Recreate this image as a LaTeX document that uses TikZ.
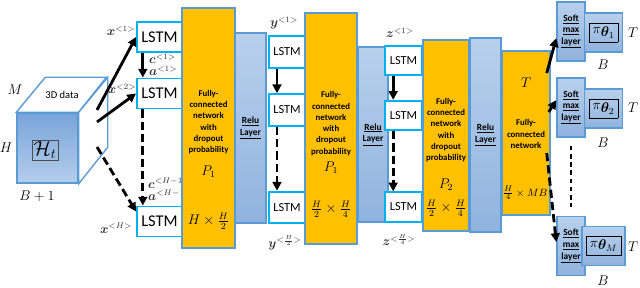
\documentclass[tikz,border=0pt]{standalone}
\usepackage[no-math]{fontspec}
\setmainfont{Carlito}
\usepackage{amsmath,amssymb,bm}
\usepackage{tikz}
\usetikzlibrary{arrows.meta,positioning,calc}
\definecolor{fcorange}{HTML}{FFC000}
\definecolor{edgeblue}{HTML}{5B9BD5}
\definecolor{lstmcyan}{HTML}{00B0F0}
\definecolor{relutop}{HTML}{B9D0EC}
\definecolor{relubot}{HTML}{8FB3DE}
\definecolor{cubetop}{HTML}{79A4DA}
\definecolor{cubebot}{HTML}{B5CEEC}
\tikzset{
  lstm/.style={rectangle, draw=lstmcyan, line width=1.6pt, fill=white,
               minimum width=1.35cm, minimum height=0.9cm, inner sep=0pt,
               font=\fontsize{14}{16}\selectfont},
  lstms/.style={lstm, minimum width=1.06cm, minimum height=0.95cm,
               font=\fontsize{10.5}{12}\selectfont},
  fcbox/.style={rectangle, draw=edgeblue, line width=1.2pt, fill=fcorange},
  relubox/.style={rectangle, draw=edgeblue, line width=1.2pt,
               top color=relutop, bottom color=relubot, inner sep=0pt,
               font=\bfseries\fontsize{8}{10}\selectfont, align=center},
  pibox/.style={rectangle, draw=edgeblue, line width=1.2pt,
               top color=relutop, bottom color=relubot,
               minimum width=1.11cm, minimum height=1.17cm,
               font=\fontsize{12}{14}\selectfont},
  cubeface/.style={rectangle, draw=edgeblue, line width=1.2pt,
               top color=cubetop, bottom color=cubebot,
               minimum width=1.83cm, minimum height=2.1cm},
  cubeedge/.style={draw=edgeblue, line width=1.2pt, fill=white},
  fctext/.style={font=\bfseries\fontsize{7.5}{9.6}\selectfont, align=center},
  mlbl/.style={font=\fontsize{12}{14}\selectfont, inner sep=0pt},
  lbl/.style={font=\fontsize{10.5}{12}\selectfont, text=black!80, inner sep=0pt},
  larr/.style={-{Triangle[length=7.5pt,width=7.5pt]}, line width=2.4pt},
  ldash/.style={larr, dash pattern=on 7pt off 3.5pt},
}

\begin{document}
\begin{tikzpicture}[x=0.03cm, y=-0.03cm]
  \useasboundingbox (0,0) rectangle (640,288);

  % Input cube
  \node[cubeface] (cube) at (47.5,148) {};
  \draw[cubeedge] (cube.north west) -- ++(29,-35) -- ++(61,0) -- (cube.north east) -- cycle;
  \draw[cubeedge] (cube.north east) -- ++(29,-35) -- ++(0,70) -- (cube.south east) -- cycle;
  \node[draw=black!70, line width=0.5pt, inner sep=1.5pt,
        font=\fontsize{18}{20}\selectfont] (ht) at (45,150) {$\mathcal{H}_{t}$};
  \node[font=\fontsize{9}{11}\selectfont] (cubetxt) at (62,95) {3D data};
  \node[mlbl] (mdim) at (15,90) {$M$};
  \node[mlbl] (hdim) at (6,148) {$H$};
  \node[mlbl] (bdim) at (37,196) {$B+1$};

  % First LSTM layer
  \node[lstm] (l11) at (159.5,37)    {LSTM};
  \node[lstm] (l12) at (159.5,93.5)  {LSTM};
  \node[lstm] (l13) at (159.5,221.5) {LSTM};

  \coordinate (s1) at (97,110);
  \coordinate (s2) at (97,122);
  \coordinate (s3) at (97,147);
  \draw[larr]  (s1) -- (l11.west);
  \draw[larr]  (s2) -- (l12.west);
  \draw[ldash] (s3) -- ([yshift=0.3cm]l13.west);
  \node[lbl] (x1) at (121,31)  {$\bm{x}^{<1>}$};
  \node[lbl] (x2) at (122,89)  {$\bm{x}^{<2>}$};
  \node[lbl] (xH) at (116,228) {$\bm{x}^{<H>}$};

  \draw[larr]  ([xshift=-0.5cm]l11.south) -- ([xshift=-0.5cm]l12.north);
  \draw[ldash] ([xshift=-0.5cm]l12.south) -- ([xshift=-0.5cm]l13.north);
  \node[lbl, anchor=west] (c1) at (149,59)  {$\bm{c}^{<1>}$};
  \node[lbl, anchor=west] (a1) at (149,71)  {$\bm{a}^{<1>}$};
  \node[lbl, anchor=west] (cH) at (148,183) {$\bm{c}^{<H-1>}$};
  \node[lbl, anchor=west] (aH) at (148,195) {$\bm{a}^{<H-1>}$};

  % FC 1 + Relu 1
  \node[fcbox, minimum width=1.59cm, minimum height=7.2cm] (fc1) at (208.5,128) {};
  \node[fctext] (fc1txt) at (208.5,122) {Fully-\\connected\\network\\with\\dropout\\probability};
  \node[mlbl] (fc1p) at (208.5,172) {$P_1$};
  \node[mlbl] (fc1d) at (208.5,221) {$H\times\frac{H}{2}$};
  \node[relubox, minimum width=0.93cm, minimum height=5.7cm] (relu1) at (250.5,128)
       {\underline{Relu}\\\underline{Layer}};

  % Second LSTM layer
  \node[lstms] (l21) at (287,52)    {LSTM};
  \node[lstms] (l22) at (287,110)   {LSTM};
  \node[lstms] (l23) at (287,207.5) {LSTM};
  \draw[larr]  ([xshift=-0.3cm]l21.south) -- ([xshift=-0.3cm]l22.north);
  \draw[ldash] ([xshift=-0.3cm]l22.south) -- ([xshift=-0.3cm]l23.north);
  \node[lbl] (y1) at (284,23)  {$\bm{y}^{<1>}$};
  \node[lbl] (yH) at (285,243) {$\bm{y}^{<\frac{H}{2}>}$};

  % FC 2 + Relu 2
  \node[fcbox, minimum width=1.56cm, minimum height=6.93cm] (fc2) at (331,128.5) {};
  \node[fctext] (fc2txt) at (331,123.5) {Fully-\\connected\\network\\with\\dropout\\probability};
  \node[mlbl] (fc2p) at (331,168) {$P_1$};
  \node[mlbl] (fc2d) at (331,209) {$\frac{H}{2}\times\frac{H}{4}$};
  \node[relubox, minimum width=0.9cm, minimum height=5.25cm] (relu2) at (373,134.5)
       {\underline{Relu}\\\underline{Layer}};

  % Third LSTM layer
  \node[lstms, minimum width=1.11cm, minimum height=0.88cm] (l31) at (403.5,60.5)  {LSTM};
  \node[lstms, minimum width=1.11cm, minimum height=0.88cm] (l32) at (403.5,115.5) {LSTM};
  \node[lstms, minimum width=1.11cm, minimum height=0.88cm] (l33) at (403.5,207)   {LSTM};
  \draw[larr]  ([xshift=-0.31cm]l31.south) -- ([xshift=-0.31cm]l32.north);
  \draw[ldash] ([xshift=-0.31cm]l32.south) -- ([xshift=-0.31cm]l33.north);
  \node[lbl] (z1) at (400,33)  {$\bm{z}^{<1>}$};
  \node[lbl] (zH) at (399,240) {$\bm{z}^{<\frac{H}{4}>}$};

  % FC 3 + Relu 3
  \node[fcbox, minimum width=1.38cm, minimum height=5.73cm] (fc3) at (446,135.5) {};
  \node[fctext] (fc3txt) at (446,130) {Fully-\\connected\\network\\with\\dropout\\probability};
  \node[mlbl] (fc3p) at (446,185) {$P_2$};
  \node[mlbl] (fc3d) at (446,208) {$\frac{H}{2}\times\frac{H}{4}$};
  \node[relubox, minimum width=0.93cm, minimum height=5.82cm] (relu3) at (485.5,135)
       {\underline{Relu}\\\underline{Layer}};

  % Output FC
  \node[fcbox, minimum width=1.44cm, minimum height=4.92cm] (fc4) at (526,133) {};
  \node[mlbl] (fc4t) at (526,83) {$T$};
  \node[fctext] (fc4txt) at (526,134) {Fully-\\connected\\network};
  \node[mlbl, font=\fontsize{9.5}{11}\selectfont] (fc4d) at (525,193) {$\frac{H}{4}\times MB$};

  % Softmax heads
  \foreach \i/\yy in {1/31.5, 2/107.5, 3/246} {
    \node[relubox, minimum width=0.84cm, minimum height=1.77cm] (sm\i) at (571,\yy)
         {\underline{Soft}\\\underline{max}\\\underline{layer}};
  }
  \node[pibox] (pi1) at (603.5,32.5)  {\fbox{$\pi\raisebox{-2pt}{$\bm{\theta}_1$}$}};
  \node[pibox] (pi2) at (603.5,108.5) {\fbox{$\pi\raisebox{-2pt}{$\bm{\theta}_2$}$}};
  \node[pibox] (pi3) at (603.5,246)   {\fbox{$\pi\raisebox{-2pt}{$\bm{\theta}_M$}$}};
  \node[mlbl] (t1) at (633,33)  {$T$};
  \node[mlbl] (t2) at (633,108) {$T$};
  \node[mlbl] (t3) at (633,247) {$T$};
  \node[mlbl] (b1) at (603,65)  {$B$};
  \node[mlbl] (b2) at (603,143) {$B$};
  \node[mlbl] (b3) at (603,281) {$B$};

  \draw[larr]  ([xshift=-0.12cm, yshift=1.8cm]fc4.east)  -- ([yshift=-0.2cm]sm1.west);
  \draw[larr]  ([xshift=-0.06cm, yshift=0.63cm]fc4.east) -- ([yshift=0.22cm]sm2.west);
  \draw[ldash] ([xshift=-0.12cm, yshift=-0.6cm]fc4.east) -- ([yshift=0.12cm]sm3.west);
  \draw[line width=1.2pt, dash pattern=on 4pt off 3pt]
       ([yshift=-0.24cm]sm2.south) -- ([yshift=0.27cm]sm3.north);
\end{tikzpicture}
\end{document}
